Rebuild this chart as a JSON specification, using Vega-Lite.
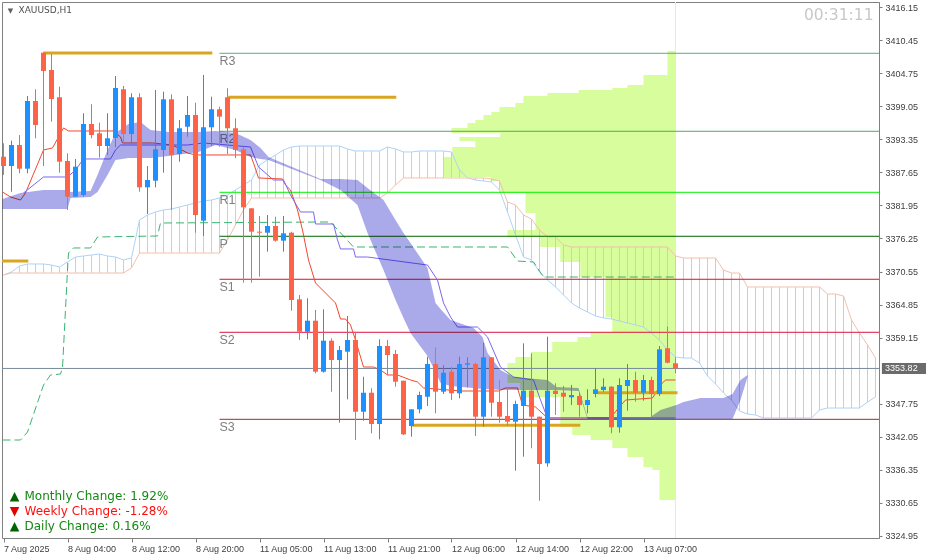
{
"$schema": "https://vega.github.io/schema/vega-lite/v6.json",
"width": 877, "height": 536,
"autosize": {"type": "none"},
"padding": {"left": 2, "top": 2, "right": 47, "bottom": 21},
"background": "white",
"config": {"view": {"stroke": "#808080", "strokeWidth": 1}, "axis": {"grid": false, "title": null, "labelOverlap": false, "labelBound": false, "labelFlush": false}, "scale": {"continuousPadding": 0}},
"datasets": {
"candles": [
{"x":0,"o":3390.36,"h":3392.68,"l":3387.21,"c":3388.76},
{"x":1,"o":3388.76,"h":3393.13,"l":3384.32,"c":3392.38},
{"x":2,"o":3392.38,"h":3394.11,"l":3387.50,"c":3388.29},
{"x":3,"o":3388.29,"h":3400.84,"l":3387.50,"c":3399.98},
{"x":4,"o":3399.98,"h":3402.00,"l":3393.54,"c":3395.84},
{"x":5,"o":3408.31,"h":3408.31,"l":3388.76,"c":3405.16},
{"x":6,"o":3405.33,"h":3408.09,"l":3396.41,"c":3400.32},
{"x":7,"o":3400.62,"h":3402.45,"l":3387.60,"c":3389.50},
{"x":8,"o":3389.62,"h":3390.95,"l":3381.17,"c":3383.46},
{"x":9,"o":3383.46,"h":3389.97,"l":3383.46,"c":3388.64},
{"x":10,"o":3383.76,"h":3397.86,"l":3383.46,"c":3396.01},
{"x":11,"o":3396.01,"h":3399.41,"l":3393.54,"c":3394.11},
{"x":12,"o":3394.40,"h":3396.23,"l":3390.19,"c":3392.21},
{"x":13,"o":3392.21,"h":3397.86,"l":3390.66,"c":3393.54},
{"x":14,"o":3393.59,"h":3404.29,"l":3392.04,"c":3402.22},
{"x":15,"o":3402.00,"h":3402.57,"l":3392.68,"c":3394.28},
{"x":16,"o":3394.28,"h":3401.31,"l":3392.68,"c":3400.62},
{"x":17,"o":3400.62,"h":3401.31,"l":3384.32,"c":3385.08},
{"x":18,"o":3385.08,"h":3388.76,"l":3380.48,"c":3386.34},
{"x":19,"o":3386.22,"h":3401.88,"l":3385.08,"c":3391.64},
{"x":20,"o":3391.52,"h":3401.58,"l":3387.60,"c":3400.27},
{"x":21,"o":3400.27,"h":3401.13,"l":3381.17,"c":3390.66},
{"x":22,"o":3390.83,"h":3396.70,"l":3389.50,"c":3395.27},
{"x":23,"o":3395.54,"h":3400.84,"l":3393.82,"c":3397.56},
{"x":24,"o":3397.56,"h":3399.68,"l":3377.25,"c":3380.30},
{"x":25,"o":3379.32,"h":3404.47,"l":3376.68,"c":3395.44},
{"x":26,"o":3395.44,"h":3400.72,"l":3392.21,"c":3398.55},
{"x":27,"o":3398.55,"h":3398.99,"l":3392.09,"c":3397.27},
{"x":28,"o":3400.62,"h":3402.17,"l":3390.83,"c":3395.27},
{"x":29,"o":3395.27,"h":3396.99,"l":3390.09,"c":3391.52},
{"x":30,"o":3391.64,"h":3392.09,"l":3368.62,"c":3381.63},
{"x":31,"o":3381.46,"h":3381.46,"l":3368.62,"c":3377.42},
{"x":32,"o":3377.42,"h":3380.13,"l":3369.65,"c":3377.25},
{"x":33,"o":3377.25,"h":3380.30,"l":3373.97,"c":3378.40},
{"x":34,"o":3378.40,"h":3380.01,"l":3375.69,"c":3375.87},
{"x":35,"o":3375.87,"h":3380.13,"l":3373.97,"c":3377.14},
{"x":36,"o":3377.25,"h":3377.42,"l":3363.79,"c":3365.63},
{"x":37,"o":3365.75,"h":3366.50,"l":3358.73,"c":3360.16},
{"x":38,"o":3360.16,"h":3365.93,"l":3358.85,"c":3362.06},
{"x":39,"o":3362.06,"h":3363.91,"l":3352.98,"c":3353.26},
{"x":40,"o":3353.26,"h":3364.03,"l":3353.09,"c":3358.61},
{"x":41,"o":3358.61,"h":3359.02,"l":3349.81,"c":3355.28},
{"x":42,"o":3355.28,"h":3357.69,"l":3344.46,"c":3357.00},
{"x":43,"o":3356.71,"h":3362.87,"l":3348.49,"c":3358.73},
{"x":44,"o":3358.73,"h":3360.16,"l":3341.47,"c":3346.35},
{"x":45,"o":3346.35,"h":3352.39,"l":3344.80,"c":3349.63},
{"x":46,"o":3349.63,"h":3350.39,"l":3342.63,"c":3344.23},
{"x":47,"o":3344.23,"h":3358.85,"l":3341.59,"c":3357.69},
{"x":48,"o":3357.69,"h":3358.73,"l":3352.69,"c":3356.14},
{"x":49,"o":3356.31,"h":3357.00,"l":3350.67,"c":3351.53},
{"x":50,"o":3351.70,"h":3351.70,"l":3342.33,"c":3342.45},
{"x":51,"o":3343.89,"h":3346.77,"l":3342.04,"c":3346.77},
{"x":52,"o":3346.77,"h":3349.81,"l":3346.08,"c":3349.24},
{"x":53,"o":3348.94,"h":3355.85,"l":3347.34,"c":3354.59},
{"x":54,"o":3354.59,"h":3357.47,"l":3346.08,"c":3349.81},
{"x":55,"o":3349.81,"h":3354.41,"l":3349.41,"c":3353.09},
{"x":56,"o":3353.26,"h":3354.12,"l":3348.37,"c":3349.53},
{"x":57,"o":3349.53,"h":3355.85,"l":3348.67,"c":3354.59},
{"x":58,"o":3354.47,"h":3355.74,"l":3350.57,"c":3354.71},
{"x":59,"o":3354.59,"h":3354.81,"l":3342.16,"c":3345.49},
{"x":60,"o":3345.49,"h":3358.26,"l":3343.76,"c":3355.74},
{"x":61,"o":3355.74,"h":3355.74,"l":3345.49,"c":3347.91},
{"x":62,"o":3348.03,"h":3351.83,"l":3344.46,"c":3345.49},
{"x":63,"o":3345.61,"h":3350.57,"l":3343.89,"c":3344.63},
{"x":64,"o":3344.63,"h":3348.25,"l":3336.17,"c":3347.68},
{"x":65,"o":3347.34,"h":3358.16,"l":3338.59,"c":3349.98},
{"x":66,"o":3349.98,"h":3356.43,"l":3340.04,"c":3345.49},
{"x":67,"o":3345.49,"h":3345.49,"l":3330.99,"c":3337.33},
{"x":68,"o":3337.45,"h":3359.30,"l":3336.86,"c":3349.98},
{"x":69,"o":3349.98,"h":3351.26,"l":3345.79,"c":3349.41},
{"x":70,"o":3349.63,"h":3350.79,"l":3346.35,"c":3348.94},
{"x":71,"o":3348.84,"h":3350.96,"l":3347.51,"c":3349.24},
{"x":72,"o":3349.06,"h":3349.63,"l":3345.49,"c":3347.51},
{"x":73,"o":3347.51,"h":3350.22,"l":3346.08,"c":3348.37},
{"x":74,"o":3349.41,"h":3353.85,"l":3348.84,"c":3350.22},
{"x":75,"o":3350.10,"h":3352.12,"l":3349.81,"c":3350.67},
{"x":76,"o":3350.67,"h":3350.79,"l":3342.63,"c":3343.66},
{"x":77,"o":3343.66,"h":3352.12,"l":3342.73,"c":3350.96},
{"x":78,"o":3350.79,"h":3354.59,"l":3346.53,"c":3351.83},
{"x":79,"o":3351.83,"h":3353.26,"l":3348.08,"c":3349.63},
{"x":80,"o":3349.63,"h":3352.69,"l":3348.25,"c":3351.83},
{"x":81,"o":3351.83,"h":3352.39,"l":3345.49,"c":3349.41},
{"x":82,"o":3349.41,"h":3357.69,"l":3349.06,"c":3357.12},
{"x":83,"o":3357.30,"h":3361.03,"l":3354.71,"c":3354.81},
{"x":84,"o":3354.71,"h":3355.74,"l":3352.98,"c":3353.82}
],
"kumo": [
{"x":0,"a":3369.95,"b":3369.95},{"x":1,"a":3370.47,"b":3370.29},{"x":2,"a":3371.50,"b":3370.29},{"x":3,"a":3371.85,"b":3370.29},
{"x":4,"a":3371.85,"b":3370.29},{"x":5,"a":3371.85,"b":3370.29},{"x":6,"a":3371.67,"b":3370.29},{"x":7,"a":3371.33,"b":3370.29},
{"x":8,"a":3372.19,"b":3370.29},{"x":9,"a":3373.05,"b":3370.29},{"x":10,"a":3373.23,"b":3370.29},{"x":11,"a":3373.40,"b":3370.29},
{"x":12,"a":3373.57,"b":3370.29},{"x":13,"a":3373.23,"b":3370.29},{"x":14,"a":3373.05,"b":3370.29},{"x":15,"a":3372.54,"b":3370.29},
{"x":16,"a":3372.88,"b":3371.16},{"x":17,"a":3379.44,"b":3373.74},{"x":18,"a":3380.30,"b":3373.74},{"x":19,"a":3380.82,"b":3373.74},
{"x":20,"a":3381.17,"b":3373.74},{"x":21,"a":3381.34,"b":3373.74},{"x":22,"a":3381.68,"b":3373.74},{"x":23,"a":3382.03,"b":3373.74},
{"x":24,"a":3382.37,"b":3373.74},{"x":25,"a":3382.72,"b":3373.74},{"x":26,"a":3382.89,"b":3373.74},{"x":27,"a":3383.24,"b":3373.74},
{"x":28,"a":3383.76,"b":3375.99},{"x":29,"a":3384.62,"b":3378.58},{"x":30,"a":3385.48,"b":3381.17},{"x":31,"a":3386.34,"b":3383.24},
{"x":32,"a":3388.93,"b":3383.24},{"x":33,"a":3389.80,"b":3383.24},{"x":34,"a":3390.66,"b":3383.24},{"x":35,"a":3391.52,"b":3383.24},
{"x":36,"a":3392.04,"b":3383.24},{"x":37,"a":3392.21,"b":3383.24},{"x":38,"a":3392.21,"b":3383.24},{"x":39,"a":3392.21,"b":3383.24},
{"x":40,"a":3392.21,"b":3383.24},{"x":41,"a":3392.21,"b":3383.24},{"x":42,"a":3392.21,"b":3383.24},{"x":43,"a":3391.69,"b":3383.24},
{"x":44,"a":3391.35,"b":3383.24},{"x":45,"a":3391.35,"b":3383.24},{"x":46,"a":3391.35,"b":3383.24},{"x":47,"a":3391.35,"b":3383.24},
{"x":48,"a":3392.04,"b":3384.10},{"x":49,"a":3391.69,"b":3385.48},{"x":50,"a":3391.18,"b":3386.69},{"x":51,"a":3391.18,"b":3386.69},
{"x":52,"a":3391.35,"b":3386.69},{"x":53,"a":3391.35,"b":3386.69},{"x":54,"a":3391.35,"b":3386.69},{"x":55,"a":3391.35,"b":3386.69},
{"x":56,"a":3391.18,"b":3386.69},{"x":57,"a":3388.07,"b":3386.69},{"x":58,"a":3386.69,"b":3386.69},{"x":59,"a":3386.34,"b":3386.69},
{"x":60,"a":3386.17,"b":3386.69},{"x":61,"a":3386.00,"b":3386.52},{"x":62,"a":3384.62,"b":3386.17},{"x":63,"a":3380.82,"b":3382.55},
{"x":64,"a":3376.85,"b":3382.03},{"x":65,"a":3373.05,"b":3380.30},{"x":66,"a":3372.54,"b":3379.61},{"x":67,"a":3370.47,"b":3377.71},
{"x":68,"a":3369.08,"b":3376.51},{"x":69,"a":3367.88,"b":3376.51},{"x":70,"a":3366.50,"b":3375.13},{"x":71,"a":3365.12,"b":3374.78},
{"x":72,"a":3364.25,"b":3374.78},{"x":73,"a":3363.56,"b":3374.78},{"x":74,"a":3362.87,"b":3374.78},{"x":75,"a":3362.53,"b":3374.78},
{"x":76,"a":3362.35,"b":3374.78},{"x":77,"a":3362.01,"b":3374.78},{"x":78,"a":3361.66,"b":3374.78},{"x":79,"a":3361.32,"b":3374.78},
{"x":80,"a":3360.97,"b":3374.78},{"x":81,"a":3359.94,"b":3374.78},{"x":82,"a":3358.73,"b":3374.78},{"x":83,"a":3357.00,"b":3374.78},
{"x":84,"a":3355.80,"b":3373.23},{"x":85,"a":3355.62,"b":3372.88},{"x":86,"a":3355.62,"b":3372.88},{"x":87,"a":3354.76,"b":3372.88},
{"x":88,"a":3352.52,"b":3372.88},{"x":89,"a":3351.14,"b":3372.88},{"x":90,"a":3349.58,"b":3370.81},{"x":91,"a":3348.37,"b":3370.29},
{"x":92,"a":3346.48,"b":3370.29},{"x":93,"a":3345.96,"b":3367.88},{"x":94,"a":3345.79,"b":3367.88},{"x":95,"a":3345.27,"b":3367.88},
{"x":96,"a":3345.27,"b":3367.88},{"x":97,"a":3345.27,"b":3367.88},{"x":98,"a":3345.27,"b":3367.88},{"x":99,"a":3345.27,"b":3367.88},
{"x":100,"a":3345.27,"b":3367.88},{"x":101,"a":3345.27,"b":3367.88},{"x":102,"a":3346.65,"b":3367.88},{"x":103,"a":3346.99,"b":3366.67},
{"x":104,"a":3346.99,"b":3366.67},{"x":105,"a":3346.99,"b":3366.32},{"x":106,"a":3346.99,"b":3362.18},{"x":107,"a":3346.99,"b":3359.94},
{"x":108,"a":3348.03,"b":3357.87},{"x":109,"a":3348.89,"b":3355.62}
],
"vp": [
{"x":83.0,"top":3408.61,"bot":3404.47},{"x":80.0,"top":3404.47,"bot":3402.74},{"x":78.0,"top":3402.74,"bot":3402.22},
{"x":76.1,"top":3402.22,"bot":3401.88},{"x":71.9,"top":3401.88,"bot":3401.36},{"x":68.0,"top":3401.36,"bot":3400.84},
{"x":65.0,"top":3400.84,"bot":3399.63},{"x":64.0,"top":3399.63,"bot":3398.94},{"x":62.0,"top":3398.94,"bot":3398.08},
{"x":61.0,"top":3398.08,"bot":3397.56},{"x":60.0,"top":3397.56,"bot":3396.70},{"x":59.0,"top":3396.70,"bot":3396.18},
{"x":58.0,"top":3396.18,"bot":3395.32},{"x":56.0,"top":3395.32,"bot":3394.46},{"x":62.1,"top":3394.46,"bot":3393.77},
{"x":57.0,"top":3393.77,"bot":3393.07},{"x":59.0,"top":3393.07,"bot":3392.04},{"x":56.1,"top":3392.04,"bot":3390.31},
{"x":55.0,"top":3390.31,"bot":3386.86},{"x":60.9,"top":3386.86,"bot":3386.17},{"x":62.1,"top":3386.17,"bot":3384.10},
{"x":65.25,"top":3384.10,"bot":3380.65},{"x":66.5,"top":3380.65,"bot":3377.71},{"x":63.0,"top":3377.71,"bot":3376.51},
{"x":67.1,"top":3376.51,"bot":3374.78},{"x":69.6,"top":3374.78,"bot":3372.19},{"x":72.1,"top":3372.19,"bot":3369.60},
{"x":75.25,"top":3369.60,"bot":3362.70},{"x":76.1,"top":3362.70,"bot":3360.11},{"x":73.4,"top":3360.11,"bot":3359.25},
{"x":71.75,"top":3359.25,"bot":3358.38},{"x":68.6,"top":3358.38,"bot":3356.66},{"x":65.9,"top":3356.66,"bot":3355.80},
{"x":64.0,"top":3355.80,"bot":3354.76},{"x":63.0,"top":3354.76,"bot":3351.31},{"x":64.6,"top":3351.31,"bot":3348.89},
{"x":69.6,"top":3348.89,"bot":3343.71},{"x":71.1,"top":3343.71,"bot":3342.33},{"x":73.4,"top":3342.33,"bot":3341.47},
{"x":76.1,"top":3341.47,"bot":3340.09},{"x":78.0,"top":3340.09,"bot":3338.54},{"x":80.0,"top":3338.54,"bot":3336.81},
{"x":81.1,"top":3336.81,"bot":3336.29},{"x":82.0,"top":3336.29,"bot":3331.11}
],
"cloud": [
{"x":-0.125,"top":3383.06,"bot":3381.34},{"x":2.125,"top":3384.10,"bot":3381.34},{"x":5.0,"top":3384.62,"bot":3381.34},
{"x":8.0,"top":3384.62,"bot":3381.34},{"x":8.375,"top":3384.27,"bot":3383.24},{"x":10.875,"top":3384.45,"bot":3383.41},
{"x":11.75,"top":3387.21,"bot":3384.27},{"x":13.0,"top":3391.52,"bot":3387.21},{"x":14.0,"top":3394.46,"bot":3389.80},
{"x":15.625,"top":3396.01,"bot":3390.14},{"x":17.125,"top":3396.35,"bot":3390.14},{"x":18.375,"top":3394.97,"bot":3390.14},
{"x":20.625,"top":3394.63,"bot":3390.49},{"x":24.375,"top":3394.63,"bot":3391.18},{"x":26.5,"top":3394.80,"bot":3392.38},
{"x":29.0,"top":3394.46,"bot":3391.52},{"x":30.875,"top":3393.25,"bot":3390.31},{"x":32.125,"top":3391.87,"bot":3389.97},
{"x":33.125,"top":3390.31,"bot":3389.80},{"x":39.625,"top":3386.52,"bot":3386.34},{"x":42.125,"top":3386.52,"bot":3384.62},
{"x":44.25,"top":3386.34,"bot":3382.03},{"x":45.5,"top":3384.96,"bot":3377.20},{"x":47.5,"top":3382.89,"bot":3370.81},
{"x":49.0,"top":3379.44,"bot":3365.63},{"x":50.0,"top":3377.20,"bot":3362.53},{"x":50.875,"top":3375.47,"bot":3359.94},
{"x":53.0,"top":3371.16,"bot":3355.97},{"x":54.0,"top":3365.12,"bot":3353.21},{"x":54.625,"top":3364.08,"bot":3351.31},
{"x":55.875,"top":3362.18,"bot":3350.79},{"x":58.75,"top":3360.80,"bot":3350.45},{"x":59.875,"top":3359.25,"bot":3350.27},
{"x":60.5,"top":3356.49,"bot":3350.27},{"x":62.125,"top":3353.55,"bot":3350.10},{"x":63.75,"top":3352.34,"bot":3350.10},
{"x":68.0,"top":3351.83,"bot":3350.10},{"x":69.125,"top":3350.62,"bot":3350.10},{"x":71.875,"top":3350.45,"bot":3349.93},
{"x":73.0,"top":3345.44,"bot":3345.10},{"x":80.875,"top":3345.44,"bot":3345.10},{"x":82.125,"top":3346.65,"bot":3345.10},
{"x":84.125,"top":3347.51,"bot":3345.10},{"x":85.0,"top":3348.03,"bot":3345.10},{"x":87.125,"top":3348.72,"bot":3345.10},
{"x":90.0,"top":3348.72,"bot":3345.10},{"x":91.125,"top":3349.41,"bot":3345.10},{"x":92.125,"top":3351.83,"bot":3348.37},
{"x":93.0,"top":3352.69,"bot":3352.34}
],
"tenkan": [
{"x":-0.125,"y":3384.27},{"x":0.875,"y":3383.41},{"x":2.125,"y":3382.89},{"x":2.75,"y":3384.10},{"x":5.0,"y":3391.52},
{"x":6.125,"y":3391.87},{"x":7.5,"y":3395.32},{"x":8.125,"y":3394.80},{"x":13.75,"y":3394.80},{"x":14.625,"y":3393.77},
{"x":14.875,"y":3392.73},{"x":18.625,"y":3392.73},{"x":21.125,"y":3392.38},{"x":23.0,"y":3391.00},{"x":24.0,"y":3390.66},
{"x":30.875,"y":3390.66},{"x":31.25,"y":3389.28},{"x":31.875,"y":3386.69},{"x":34.875,"y":3386.52},{"x":35.25,"y":3385.48},
{"x":35.875,"y":3384.62},{"x":36.75,"y":3381.17},{"x":37.375,"y":3377.71},{"x":38.125,"y":3372.54},{"x":39.0,"y":3368.57},
{"x":41.5,"y":3365.12},{"x":42.125,"y":3362.35},{"x":42.75,"y":3362.35},{"x":43.375,"y":3361.32},{"x":44.0,"y":3358.73},
{"x":45.0,"y":3354.07},{"x":46.25,"y":3354.07},{"x":47.125,"y":3353.55},{"x":48.0,"y":3352.69},{"x":49.25,"y":3352.69},
{"x":50.875,"y":3351.83},{"x":51.75,"y":3351.48},{"x":52.5,"y":3350.45},{"x":57.125,"y":3349.93},{"x":61.875,"y":3349.93},
{"x":62.75,"y":3350.45},{"x":64.25,"y":3350.45},{"x":64.875,"y":3347.51},{"x":66.5,"y":3347.17},{"x":68.0,"y":3345.27},
{"x":75.875,"y":3345.27},{"x":76.875,"y":3346.99},{"x":77.75,"y":3348.37},{"x":81.125,"y":3348.72},{"x":82.125,"y":3350.96},
{"x":82.75,"y":3351.83},{"x":84.0,"y":3351.83}
],
"kijun": [
{"x":2.5,"y":3384.10},{"x":5.0,"y":3386.86},{"x":8.0,"y":3386.86},{"x":9.0,"y":3388.07},{"x":10.0,"y":3389.97},
{"x":13.375,"y":3389.97},{"x":14.0,"y":3391.52},{"x":14.625,"y":3392.38},{"x":23.0,"y":3392.38},{"x":25.0,"y":3392.73},
{"x":30.875,"y":3392.04},{"x":31.875,"y":3388.59},{"x":33.75,"y":3386.34},{"x":35.0,"y":3386.34},{"x":35.875,"y":3383.76},
{"x":37.125,"y":3380.82},{"x":38.75,"y":3380.82},{"x":39.0,"y":3378.75},{"x":41.25,"y":3378.75},{"x":41.75,"y":3375.99},
{"x":42.125,"y":3374.44},{"x":43.75,"y":3374.44},{"x":44.0,"y":3373.05},{"x":45.5,"y":3373.05},{"x":53.0,"y":3371.67},
{"x":54.25,"y":3369.08},{"x":55.0,"y":3365.12},{"x":55.875,"y":3362.70},{"x":56.75,"y":3360.97},{"x":59.25,"y":3360.97},
{"x":60.5,"y":3359.25},{"x":62.125,"y":3354.07},{"x":63.75,"y":3352.34},{"x":66.25,"y":3351.83},{"x":67.125,"y":3348.37},
{"x":68.0,"y":3345.27},{"x":84.0,"y":3345.27}
],
"dashed": [
{"x":-0.125,"y":3341.47},{"x":2.125,"y":3341.47},{"x":3.0,"y":3342.85},{"x":5.0,"y":3350.96},{"x":5.875,"y":3352.69},
{"x":7.125,"y":3352.86},{"x":7.375,"y":3353.90},{"x":8.0,"y":3370.81},{"x":8.125,"y":3373.74},{"x":8.75,"y":3374.61},
{"x":10.875,"y":3374.61},{"x":11.75,"y":3376.51},{"x":19.25,"y":3376.68},{"x":19.625,"y":3378.92},{"x":40.875,"y":3379.10},
{"x":43.75,"y":3374.78},{"x":63.0,"y":3374.78},{"x":64.25,"y":3372.36},{"x":66.25,"y":3372.19},{"x":67.5,"y":3369.60},
{"x":84.0,"y":3369.60}
],
"pivots": [
{"name":"R3","y":3408.21},{"name":"R2","y":3394.75},{"name":"R1","y":3384.22},{"name":"P","y":3376.63},
{"name":"S1","y":3369.21},{"name":"S2","y":3360.06},{"name":"S3","y":3345.04}
],
"gold": [
{"x":4.96,"x2":26.1,"y":3408.27},{"x":28.1,"x2":49.1,"y":3400.62},{"x":-0.1875,"x2":3.1,"y":3372.36},
{"x":51.1,"x2":72.1,"y":3344.01},{"x":74.25,"x2":84.25,"y":3349.63}
],
"info": [
{"x":2.625,"y":3331.86,"text":"Monthly Change: 1.92%","dir":"up"},
{"x":2.625,"y":3329.27,"text":"Weekly Change: -1.28%","dir":"down"},
{"x":2.625,"y":3326.68,"text":"Daily Change: 0.16%","dir":"up"}
]
},
"layer": [
{"data":{"name":"vp"},"mark":{"type":"rect","color":"#D7FD9C"},
 "encoding":{
  "x":{"field":"x","type":"quantitative","title":null,"scale":{"domain":[-0.1875,109.4375],"nice":false,"zero":false,"padding":0},
   "axis":{"values":[0,8,16,24,32,40,48,56,64,72,80],"tickCount":20,"labelExpr":"['7 Aug 2025','8 Aug 04:00','8 Aug 12:00','8 Aug 20:00','11 Aug 05:00','11 Aug 13:00','11 Aug 21:00','12 Aug 06:00','12 Aug 14:00','12 Aug 22:00','13 Aug 07:00'][round(datum.value/8)]","title":null,"orient":"bottom","domain":false,"grid":false,"ticks":true,"tickSize":4,"tickColor":"#808080","labelAlign":"left","labelFont":"Liberation Sans","labelFontSize":9,"labelColor":"#404040","labelPadding":2,"labelFlush":false,"labelOverlap":false,"labelBound":false}},
  "x2":{"datum":84.0625},
  "y":{"field":"top","type":"quantitative","title":null,"scale":{"domain":[3324.56,3417.06],"nice":false,"zero":false,"padding":0},
   "axis":{"orient":"right","values":[3416.15,3410.45,3404.75,3399.05,3393.35,3387.65,3381.95,3376.25,3370.55,3364.85,3359.15,3347.75,3342.05,3336.35,3330.65,3324.95],"tickCount":30,"format":".2f","title":null,"domain":true,"domainColor":"#808080","grid":false,"tickSize":3,"tickColor":"#808080","labelFont":"Liberation Sans","labelFontSize":9,"labelColor":"#404040","labelPadding":3,"labelFlush":false,"labelOverlap":false,"labelBound":false}},
  "y2":{"field":"bot"}}},
{"data":{"values":[{}]},"mark":{"type":"rule","color":"#D7FD9C","strokeWidth":1},
 "encoding":{"x":{"datum":84.0,"type":"quantitative","title":null},"y":{"datum":3417.06,"type":"quantitative","title":null},"y2":{"datum":3324.56}}},
{"data":{"name":"kumo"},"transform":[{"filter":"datum.a >= datum.b"}],"mark":{"type":"rule","strokeWidth":1,"color":"#B3D6F8"},
 "encoding":{"x":{"field":"x","type":"quantitative","title":null},"y":{"field":"a","type":"quantitative","title":null},"y2":{"field":"b"}}},
{"data":{"name":"kumo"},"transform":[{"filter":"datum.a < datum.b"}],"mark":{"type":"rule","strokeWidth":1,"color":"#F4C0AC"},
 "encoding":{"x":{"field":"x","type":"quantitative","title":null},"y":{"field":"a","type":"quantitative","title":null},"y2":{"field":"b"}}},
{"data":{"name":"kumo"},"mark":{"type":"line","color":"#AFD3F7","strokeWidth":1},
 "encoding":{"x":{"field":"x","type":"quantitative","title":null},"y":{"field":"a","type":"quantitative","title":null}}},
{"data":{"name":"kumo"},"mark":{"type":"line","color":"#F2C0AE","strokeWidth":1},
 "encoding":{"x":{"field":"x","type":"quantitative","title":null},"y":{"field":"b","type":"quantitative","title":null}}},
{"data":{"name":"dashed"},"mark":{"type":"line","color":"#3CB371","strokeWidth":1,"strokeDash":[8,4]},
 "encoding":{"x":{"field":"x","type":"quantitative","title":null},"y":{"field":"y","type":"quantitative","title":null}}},
{"data":{"name":"pivots"},"mark":{"type":"rule","strokeWidth":1},
 "encoding":{"x":{"datum":27,"type":"quantitative","title":null},"x2":{"datum":109.4375},"y":{"field":"y","type":"quantitative","title":null},
  "color":{"condition":[{"test":"datum.name=='R3'","value":"#5BAA80"},{"test":"datum.name=='R2'","value":"#4CAF50"},{"test":"datum.name=='R1'","value":"#00F000"},{"test":"datum.name=='P'","value":"#006400"},{"test":"datum.name=='S1'","value":"#E0102A"},{"test":"datum.name=='S2'","value":"#DC143C"}],"value":"#A52A2A"}}},
{"data":{"name":"pivots"},"mark":{"type":"text","align":"left","baseline":"top","dy":2,"font":"Liberation Sans","fontSize":12.5,"color":"#808080"},
 "encoding":{"x":{"datum":27,"type":"quantitative","title":null},"y":{"field":"y","type":"quantitative","title":null},"text":{"field":"name"}}},
{"data":{"values":[{}]},"mark":{"type":"rule","color":"#778899","strokeWidth":1},
 "encoding":{"x":{"datum":-0.1875,"type":"quantitative","title":null},"x2":{"datum":109.4375},"y":{"datum":3353.82,"type":"quantitative","title":null}}},
{"data":{"name":"tenkan"},"mark":{"type":"line","color":"#F4472E","strokeWidth":1},
 "encoding":{"x":{"field":"x","type":"quantitative","title":null},"y":{"field":"y","type":"quantitative","title":null}}},
{"data":{"name":"kijun"},"mark":{"type":"line","color":"#7B68EE","strokeWidth":1},
 "encoding":{"x":{"field":"x","type":"quantitative","title":null},"y":{"field":"y","type":"quantitative","title":null}}},
{"data":{"name":"cloud"},"mark":{"type":"area","color":"#AAAAEB","opacity":1,"blend":"multiply"},
 "encoding":{"x":{"field":"x","type":"quantitative","title":null},"y":{"field":"top","type":"quantitative","title":null},"y2":{"field":"bot"}}},
{"data":{"name":"gold"},"mark":{"type":"rule","color":"#DAA520","strokeWidth":3},
 "encoding":{"x":{"field":"x","type":"quantitative","title":null},"x2":{"field":"x2"},"y":{"field":"y","type":"quantitative","title":null}}},
{"data":{"name":"candles"},"mark":{"type":"rule","strokeWidth":1},
 "encoding":{"x":{"field":"x","type":"quantitative","title":null},"y":{"field":"h","type":"quantitative","title":null},"y2":{"field":"l"},
  "color":{"condition":{"test":"datum.c >= datum.o","value":"#1E90FF"},"value":"#FF6347"}}},
{"data":{"name":"candles"},"mark":{"type":"bar","orient":"vertical","size":5},
 "encoding":{"x":{"field":"x","type":"quantitative","title":null},"y":{"field":"o","type":"quantitative","title":null},"y2":{"field":"c"},
  "color":{"condition":{"test":"datum.c >= datum.o","value":"#1E90FF"},"value":"#FF6347"}}},
{"data":{"values":[{"x":1.875,"y":3415.60,"text":"XAUUSD,H1"}]},"mark":{"type":"text","align":"left","baseline":"middle","font":"DejaVu Sans","fontSize":9,"color":"#505050"},
 "encoding":{"x":{"field":"x","type":"quantitative","title":null},"y":{"field":"y","type":"quantitative","title":null},"text":{"field":"text"}}},
{"data":{"values":[{"x":0.875,"y":3415.51,"text":"▼"}]},"mark":{"type":"text","align":"center","baseline":"middle","font":"DejaVu Sans","fontSize":7,"color":"#606060"},
 "encoding":{"x":{"field":"x","type":"quantitative","title":null},"y":{"field":"y","type":"quantitative","title":null},"text":{"field":"text"}}},
{"data":{"values":[{"x":108.75,"y":3414.82,"text":"00:31:11"}]},"mark":{"type":"text","align":"right","baseline":"middle","font":"DejaVu Sans","fontSize":15.5,"color":"#C8C8C8"},
 "encoding":{"x":{"field":"x","type":"quantitative","title":null},"y":{"field":"y","type":"quantitative","title":null},"text":{"field":"text"}}},
{"data":{"name":"info"},"mark":{"type":"text","align":"left","baseline":"middle","font":"DejaVu Sans","fontSize":12},
 "encoding":{"x":{"field":"x","type":"quantitative","title":null},"y":{"field":"y","type":"quantitative","title":null},"text":{"field":"text"},
  "color":{"condition":{"test":"datum.dir=='up'","value":"#138A13"},"value":"#FF1010"}}},
{"data":{"name":"info"},"mark":{"type":"text","align":"center","baseline":"middle","font":"DejaVu Sans","fontSize":12.5,"dx":-10},
 "encoding":{"x":{"field":"x","type":"quantitative","title":null},"y":{"field":"y","type":"quantitative","title":null},
  "text":{"condition":{"test":"datum.dir=='up'","value":"▲"},"value":"▼"},
  "color":{"condition":{"test":"datum.dir=='up'","value":"#006400"},"value":"#E00000"}}},
{"data":{"values":[{}]},"mark":{"type":"rect","color":"#6B6B6B"},
 "encoding":{"x":{"datum":109.8,"type":"quantitative","title":null},"x2":{"datum":115.5},"y":{"datum":3354.76,"type":"quantitative","title":null},"y2":{"datum":3352.86}}},
{"data":{"values":[{"x":110.2,"y":3353.82,"text":"3353.82"}]},"mark":{"type":"text","align":"left","baseline":"middle","font":"Liberation Sans","fontSize":9,"color":"#FFFFFF"},
 "encoding":{"x":{"field":"x","type":"quantitative","title":null},"y":{"field":"y","type":"quantitative","title":null},"text":{"field":"text"}}}
]
}
